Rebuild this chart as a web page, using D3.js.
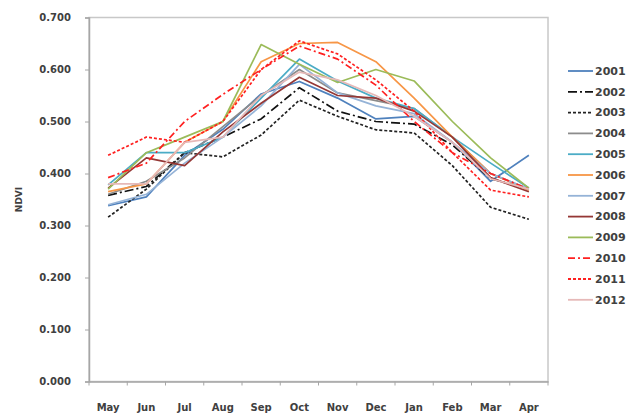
<!DOCTYPE html>
<html>
<head>
<meta charset="utf-8">
<script src="https://cdn.jsdelivr.net/npm/d3@7"></script>
<style>
  html, body { margin: 0; padding: 0; background: #fff; }
  svg { display: block; }
  text { font-family: "DejaVu Sans", sans-serif; font-weight: bold; fill: #404040; }
</style>
</head>
<body>
<svg id="chart" width="629" height="419"></svg>
<script>
// Months of the growing year, May through April
const months = ["May", "Jun", "Jul", "Aug", "Sep", "Oct", "Nov", "Dec", "Jan", "Feb", "Mar", "Apr"];

// Mean monthly NDVI per year
const ndvi2001 = [0.338, 0.355, 0.435, 0.485, 0.553, 0.577, 0.545, 0.505, 0.510, 0.460, 0.385, 0.435];
const ndvi2002 = [0.358, 0.375, 0.440, 0.470, 0.505, 0.565, 0.520, 0.500, 0.495, 0.455, 0.390, 0.370];
const ndvi2003 = [0.316, 0.370, 0.440, 0.432, 0.474, 0.541, 0.510, 0.484, 0.478, 0.415, 0.335, 0.312];
const ndvi2004 = [0.360, 0.385, 0.430, 0.490, 0.550, 0.600, 0.555, 0.540, 0.525, 0.470, 0.400, 0.370];
const ndvi2005 = [0.378, 0.440, 0.440, 0.470, 0.545, 0.620, 0.578, 0.545, 0.525, 0.470, 0.420, 0.372];
const ndvi2006 = [0.365, 0.380, 0.460, 0.500, 0.615, 0.650, 0.652, 0.615, 0.545, 0.470, 0.400, 0.368];
const ndvi2007 = [0.340, 0.360, 0.420, 0.470, 0.530, 0.610, 0.555, 0.530, 0.515, 0.460, 0.400, 0.370];
const ndvi2008 = [0.372, 0.430, 0.415, 0.480, 0.535, 0.585, 0.550, 0.545, 0.520, 0.470, 0.392, 0.365];
const ndvi2009 = [0.370, 0.440, 0.470, 0.500, 0.648, 0.610, 0.575, 0.600, 0.578, 0.500, 0.430, 0.372];
const ndvi2010 = [0.392, 0.420, 0.500, 0.552, 0.600, 0.645, 0.620, 0.570, 0.500, 0.440, 0.400, 0.370];
const ndvi2011 = [0.435, 0.470, 0.460, 0.500, 0.600, 0.655, 0.630, 0.580, 0.520, 0.440, 0.368, 0.355];
const ndvi2012 = [0.380, 0.380, 0.460, 0.470, 0.550, 0.595, 0.580, 0.550, 0.510, 0.460, 0.390, 0.370];

const years = ["2001", "2002", "2003", "2004", "2005", "2006", "2007", "2008", "2009", "2010", "2011", "2012"];
const yTicks = [0, 0.1, 0.2, 0.3, 0.4, 0.5, 0.6, 0.7];

// Line styling per year
const styles = {
  "2001": { color: "#4F81BD", dash: null },
  "2002": { color: "#111111", dash: "9,3,2,3" },
  "2003": { color: "#222222", dash: "3,2" },
  "2004": { color: "#8C8C8C", dash: null },
  "2005": { color: "#4BACC6", dash: null },
  "2006": { color: "#F79646", dash: null },
  "2007": { color: "#95B3D7", dash: null },
  "2008": { color: "#953735", dash: null },
  "2009": { color: "#9BBB59", dash: null },
  "2010": { color: "#FF2020", dash: "7,3,2,3" },
  "2011": { color: "#FF2020", dash: "3,2" },
  "2012": { color: "#E6B9B8", dash: null }
};

const seriesValues = [ndvi2001, ndvi2002, ndvi2003, ndvi2004, ndvi2005, ndvi2006,
                      ndvi2007, ndvi2008, ndvi2009, ndvi2010, ndvi2011, ndvi2012];
const series = years.map((y, i) => ({ year: y, values: seriesValues[i] }));

const svg = d3.select("#chart");
const plot = { left: 89, right: 548, top: 17.5, bottom: 381.5 };

const x = d3.scaleBand().domain(months).range([plot.left, plot.right]);
const y = d3.scaleLinear().domain([0, 0.7]).range([plot.bottom, plot.top]);

// Plot area frame
svg.append("rect")
  .attr("x", plot.left).attr("y", plot.top)
  .attr("width", plot.right - plot.left).attr("height", plot.bottom - plot.top)
  .attr("fill", "none").attr("stroke", "#c8c8c8").attr("stroke-width", 1.5);

// Y axis
const yAxis = svg.append("g")
  .attr("transform", `translate(${plot.left},0)`)
  .call(d3.axisLeft(y).tickValues(yTicks).tickFormat(d3.format(".3f")).tickSize(4).tickPadding(14));
yAxis.select(".domain").attr("stroke", "#a6a6a6").attr("stroke-width", 1.5);
yAxis.selectAll(".tick line").attr("stroke", "#a6a6a6");
yAxis.selectAll("text").attr("font-size", 10).attr("font-family", "DejaVu Sans").attr("fill", "#404040");

// X axis with ticks at category boundaries
const xAxis = svg.append("g")
  .attr("transform", `translate(0,${plot.bottom})`)
  .call(d3.axisBottom(x).tickSize(0).tickPadding(22));
xAxis.select(".domain").attr("stroke", "#a6a6a6").attr("stroke-width", 1.5);
xAxis.selectAll("text").attr("font-size", 10).attr("font-family", "DejaVu Sans").attr("fill", "#404040");
xAxis.selectAll(".boundary")
  .data(months.concat([null]))
  .join("line")
  .attr("class", "boundary")
  .attr("x1", (d, i) => plot.left + i * x.step())
  .attr("x2", (d, i) => plot.left + i * x.step())
  .attr("y1", 0).attr("y2", 4)
  .attr("stroke", "#a6a6a6");

// Axis title
svg.append("text")
  .attr("transform", `translate(19,${(plot.top + plot.bottom) / 2}) rotate(-90)`)
  .attr("text-anchor", "middle")
  .attr("dy", "0.35em")
  .attr("font-size", 9)
  .text("NDVI");

// Series lines
const line = d3.line()
  .x((d, i) => x(months[i]) + x.bandwidth() / 2)
  .y(d => y(d));

svg.append("g").selectAll("path")
  .data(series)
  .join("path")
  .attr("d", d => line(d.values))
  .attr("fill", "none")
  .attr("stroke", d => styles[d.year].color)
  .attr("stroke-width", 1.7)
  .attr("stroke-dasharray", d => styles[d.year].dash)
  .attr("stroke-linejoin", "round");

// Legend
const legend = svg.append("g").attr("transform", "translate(568,71)");
const entry = legend.selectAll("g")
  .data(series)
  .join("g")
  .attr("transform", (d, i) => `translate(0,${i * 20.8})`);
entry.append("line")
  .attr("x1", 0).attr("x2", 25).attr("y1", 0).attr("y2", 0)
  .attr("stroke", d => styles[d.year].color)
  .attr("stroke-width", 1.8)
  .attr("stroke-dasharray", d => styles[d.year].dash);
entry.append("text")
  .attr("x", 27).attr("y", 0).attr("dy", "0.35em")
  .attr("font-size", 11)
  .text(d => d.year);
</script>
</body>
</html>
